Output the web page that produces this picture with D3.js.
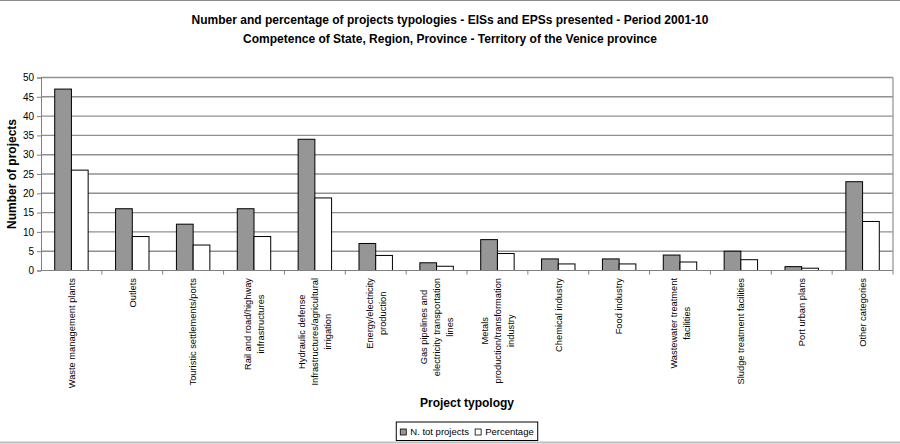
<!DOCTYPE html>
<html>
<head>
<meta charset="utf-8">
<script src="https://cdn.jsdelivr.net/npm/d3@7"></script>
<style>
  body { margin: 0; background: #fff; }
  svg { font-family: "Liberation Sans", Arial, sans-serif; }
</style>
</head>
<body>
<svg id="chart" width="900" height="444"></svg>
<script>
// Data
const categories = [
  "Waste management plants", "Outlets", "Touristic settlements/ports",
  "Rail and road/highway infrastructures",
  "Hydraulic defense Infrastructures/agricultural irrigation",
  "Energy/electricity production",
  "Gas pipelines and electricity transportation lines",
  "Metals production/transformation industry",
  "Chemical industry", "Food industry", "Wastewater treatment facilities",
  "Sludge treatment facilities", "Port urban plans", "Other categories"
];
// how the labels are broken into lines in the picture
const labelLines = [
  ["Waste management plants"], ["Outlets"], ["Touristic settlements/ports"],
  ["Rail and road/highway", "infrastructures"],
  ["Hydraulic defense", "Infrastructures/agricultural", "irrigation"],
  ["Energy/electricity", "production"],
  ["Gas pipelines and", "electricity transportation", "lines"],
  ["Metals", "production/transformation", "industry"],
  ["Chemical industry"], ["Food industry"], ["Wastewater treatment", "facilities"],
  ["Sludge treatment facilities"], ["Port urban plans"], ["Other categories"]
];
const nProjects = [47, 16, 12, 16, 34, 7, 2, 8, 3, 3, 4, 5, 1, 23];
const percentage = [26.0, 8.8, 6.6, 8.8, 18.8, 3.9, 1.1, 4.4, 1.7, 1.7, 2.2, 2.8, 0.6, 12.7];
const seriesNames = ["N. tot projects", "Percentage"];
const yTicks = [0, 5, 10, 15, 20, 25, 30, 35, 40, 45, 50];
const titleLines = [
  "Number and percentage of projects typologies - EISs and EPSs presented - Period 2001-10",
  "Competence of State, Region, Province - Territory of the Venice province"
];

const margin = { top: 77.5, left: 41, right: 7, bottom: 173.5 };
const W = 900, H = 444;
const colors = { "N. tot projects": "#969696", "Percentage": "#ffffff" };

const svg = d3.select("#chart");

// outer chart frame lines
svg.append("line").attr("x1", 0).attr("x2", W).attr("y1", 0.5).attr("y2", 0.5)
  .attr("stroke", "#8c8c8c");
svg.append("line").attr("x1", 0).attr("x2", W).attr("y1", 442.5).attr("y2", 442.5)
  .attr("stroke", "#bdbdbd").attr("stroke-width", 2);

const x = d3.scaleBand()
  .domain(categories)
  .range([margin.left, W - margin.right])
  .padding(0);

const x1 = d3.scaleBand()
  .domain(seriesNames)
  .range([0, x.bandwidth()])
  .paddingInner(0)
  .paddingOuter(0.82);

const y = d3.scaleLinear()
  .domain([0, 50])
  .range([H - margin.bottom, margin.top]);

// gridlines
svg.append("g")
  .selectAll("line")
  .data(yTicks.filter(d => d > 0))
  .join("line")
    .attr("x1", margin.left)
    .attr("x2", W - margin.right)
    .attr("y1", d => y(d))
    .attr("y2", d => y(d))
    .attr("stroke", "#909090")
    .attr("stroke-width", 1.4);

// right border of plot area
svg.append("line")
  .attr("x1", W - margin.right).attr("x2", W - margin.right)
  .attr("y1", y(50)).attr("y2", y(0))
  .attr("stroke", "#a0a0a0").attr("stroke-width", 1.4);

// bars
const rows = categories.map((c, i) => ({
  cat: c,
  values: [
    { key: seriesNames[0], value: nProjects[i] },
    { key: seriesNames[1], value: percentage[i] }
  ]
}));

svg.append("g")
  .selectAll("g")
  .data(rows)
  .join("g")
    .attr("transform", d => `translate(${x(d.cat)},0)`)
  .selectAll("rect")
  .data(d => d.values)
  .join("rect")
    .attr("x", d => x1(d.key))
    .attr("y", d => y(d.value))
    .attr("width", x1.bandwidth())
    .attr("height", d => y(0) - y(d.value))
    .attr("fill", d => colors[d.key])
    .attr("stroke", "#000")
    .attr("stroke-width", 1);

// y axis
const yAxis = svg.append("g")
  .attr("transform", `translate(${margin.left},0)`)
  .call(d3.axisLeft(y).tickValues(yTicks).tickSize(4).tickPadding(3));
yAxis.select(".domain").attr("stroke", "#808080");
yAxis.selectAll(".tick line").attr("stroke", "#808080");
yAxis.selectAll("text").attr("font-size", 10).attr("fill", "#000")
  .attr("font-family", "Liberation Sans, Arial, sans-serif");

// x axis line and boundary ticks
svg.append("line")
  .attr("x1", margin.left).attr("x2", W - margin.right)
  .attr("y1", y(0)).attr("y2", y(0))
  .attr("stroke", "#808080").attr("stroke-width", 1.2);

const bounds = categories.map(c => x(c) + x.bandwidth());
svg.append("g")
  .selectAll("line")
  .data(bounds)
  .join("line")
    .attr("x1", d => d).attr("x2", d => d)
    .attr("y1", y(0)).attr("y2", y(0) + 4)
    .attr("stroke", "#808080");

// category labels, rotated, lines centred on each other
const lineH = 13;
const labelTop = y(0) + 7.5;
const labels = svg.append("g")
  .selectAll("g")
  .data(categories.map((c, i) => ({ cat: c, lines: labelLines[i] })))
  .join("g")
    .attr("transform", d => `translate(${x(d.cat) + x.bandwidth() / 2},${labelTop}) rotate(-90)`);

labels.each(function(d) {
  const g = d3.select(this);
  const n = d.lines.length;
  const texts = g.selectAll("text")
    .data(d.lines)
    .join("text")
      .attr("font-size", 9.3)
      .attr("fill", "#000")
      .attr("text-anchor", "middle")
      .attr("y", (l, i) => (i - (n - 1) / 2) * lineH + 3.3)
      .text(l => l);
  const maxLen = d3.max(texts.nodes(), t => t.getComputedTextLength());
  texts.attr("x", -maxLen / 2);
});

// titles
svg.append("g")
  .selectAll("text")
  .data(titleLines)
  .join("text")
    .attr("x", W / 2)
    .attr("y", (d, i) => 24 + i * 19)
    .attr("text-anchor", "middle")
    .attr("font-size", 12)
    .attr("font-weight", "bold")
    .text(d => d);

// axis titles
svg.append("text")
  .attr("transform", `translate(16,${(y(0) + y(50)) / 2}) rotate(-90)`)
  .attr("text-anchor", "middle")
  .attr("font-size", 12)
  .attr("font-weight", "bold")
  .text("Number of projects");

const plotMid = (margin.left + W - margin.right) / 2;
svg.append("text")
  .attr("x", plotMid)
  .attr("y", 407)
  .attr("text-anchor", "middle")
  .attr("font-size", 12)
  .attr("font-weight", "bold")
  .text("Project typology");

// legend
const legend = svg.append("g");
const legendBox = legend.append("rect")
  .attr("fill", "#fff").attr("stroke", "#000");
const items = legend.selectAll("g")
  .data(seriesNames)
  .join("g");
items.append("rect")
  .attr("width", 6).attr("height", 6)
  .attr("y", -6)
  .attr("fill", d => colors[d])
  .attr("stroke", "#000").attr("stroke-width", 0.8);
items.append("text")
  .attr("x", 10)
  .attr("font-size", 9.5)
  .text(d => d);
let cursor = 0;
items.each(function() {
  d3.select(this).attr("transform", `translate(${cursor},0)`);
  cursor += this.getBBox().width + 6;
});
const legendW = cursor - 6 + 8;
legend.attr("transform", `translate(${plotMid - legendW / 2 + 4},435)`);
legendBox.attr("x", -4).attr("y", -13).attr("width", legendW).attr("height", 18.5);
</script>
</body>
</html>
